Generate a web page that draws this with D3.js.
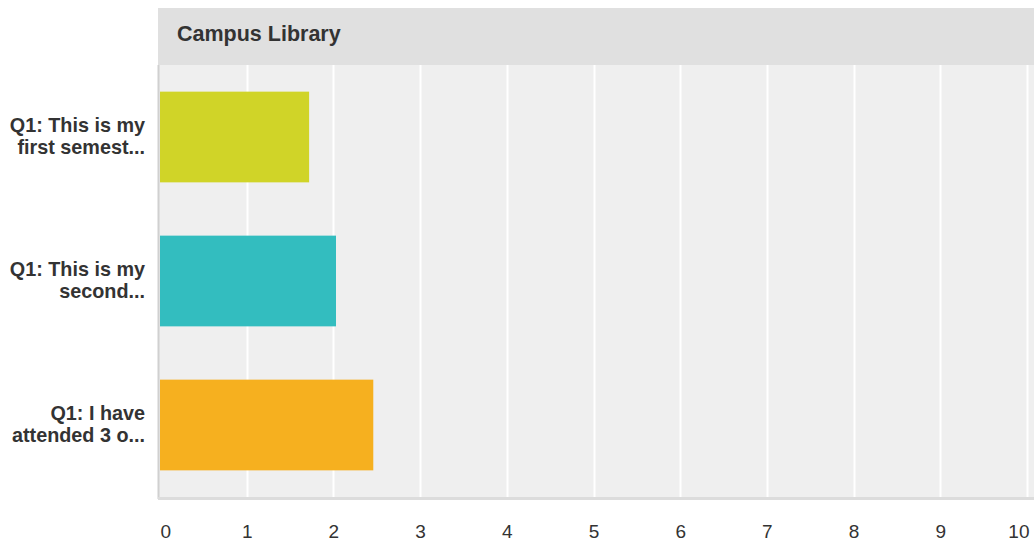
<!DOCTYPE html>
<html><head><meta charset="utf-8">
<script src="https://cdn.jsdelivr.net/npm/d3@7"></script>
<style>body{margin:0;background:#fff}svg{display:block}</style>
</head><body>
<svg id="c" width="1034" height="545"></svg>
<script>
const title = "Campus Library";
const categories = [
  ["Q1: This is my", "first semest..."],
  ["Q1: This is my", "second..."],
  ["Q1: I have", "attended 3 o..."]
];
const values = [1.72, 2.03, 2.46];
const colors = ["#d0d428", "#33bdbf", "#f6b01f"];
const tickValues = [0,1,2,3,4,5,6,7,8,9,10];

const svg = d3.select("#c");
const font = "Arial, 'Liberation Sans', Helvetica, sans-serif";
const pLeft = 160, pRight = 1027, pTop = 65, pBottom = 497;

const x = d3.scaleLinear().domain([0, 10]).range([pLeft, pRight]);
const y = d3.scaleBand().domain(d3.range(categories.length)).range([pTop, pBottom]).paddingInner(0.37).paddingOuter(0.185);

// title band
svg.append("rect").attr("x", 158).attr("y", 8).attr("width", 1034-158).attr("height", pTop-8).attr("fill", "#e0e0e0");
svg.append("text").attr("x", 177).attr("y", 41).text(title)
  .attr("font-family", font).attr("font-weight", "bold").attr("font-size", 21.5).attr("fill", "#333");

// plot background
svg.append("rect").attr("x", 159).attr("y", pTop).attr("width", 1034-159).attr("height", pBottom-pTop).attr("fill", "#efefef");

// gridlines
svg.append("g").selectAll("line").data(tickValues.slice(1)).join("line")
  .attr("x1", d => Math.round(x(d)) + 0.5).attr("x2", d => Math.round(x(d)) + 0.5)
  .attr("y1", pTop).attr("y2", pBottom)
  .attr("stroke", "#fff").attr("stroke-width", 2);

// bars
svg.append("g").selectAll("rect").data(values).join("rect")
  .attr("x", x(0)).attr("y", (d,i) => y(i))
  .attr("width", d => x(d) - x(0)).attr("height", y.bandwidth())
  .attr("fill", (d,i) => colors[i]);

// axes lines
svg.append("line").attr("x1", 158.5).attr("x2", 158.5).attr("y1", pTop).attr("y2", pBottom+2)
  .attr("stroke", "#d0d0d0").attr("stroke-width", 2);
svg.append("rect").attr("x", 158).attr("y", pBottom).attr("width", 1034-158).attr("height", 3).attr("fill", "#dcdcdc");

// x tick labels
const xa = svg.append("g").attr("transform", `translate(0,${pBottom})`)
  .call(d3.axisBottom(x).tickValues(tickValues).tickSize(0).tickPadding(0).tickFormat(d3.format("d")));
xa.select(".domain").remove();
xa.selectAll("text")
  .attr("y", 41).attr("dy", null)
  .attr("font-family", font).attr("font-size", 19).attr("fill", "#333")
  .attr("text-anchor", (d,i) => i === 0 ? "start" : (i === tickValues.length-1 ? "end" : "middle"))
  .attr("dx", (d,i) => i === 0 ? 0 : (i === tickValues.length-1 ? 2 : 0));

// category labels
const lab = svg.append("g").selectAll("text").data(categories).join("text")
  .attr("font-family", font).attr("font-weight", "bold").attr("font-size", 19.8)
  .attr("fill", "#333").attr("text-anchor", "end");
lab.each(function(lines, i) {
  const c = y(i) + y.bandwidth()/2;
  d3.select(this).selectAll("tspan").data(lines).join("tspan")
    .attr("x", 145).attr("y", (d,j) => c - 5.5 + j*22.7)
    .text(d => d);
});
</script>
</body></html>
